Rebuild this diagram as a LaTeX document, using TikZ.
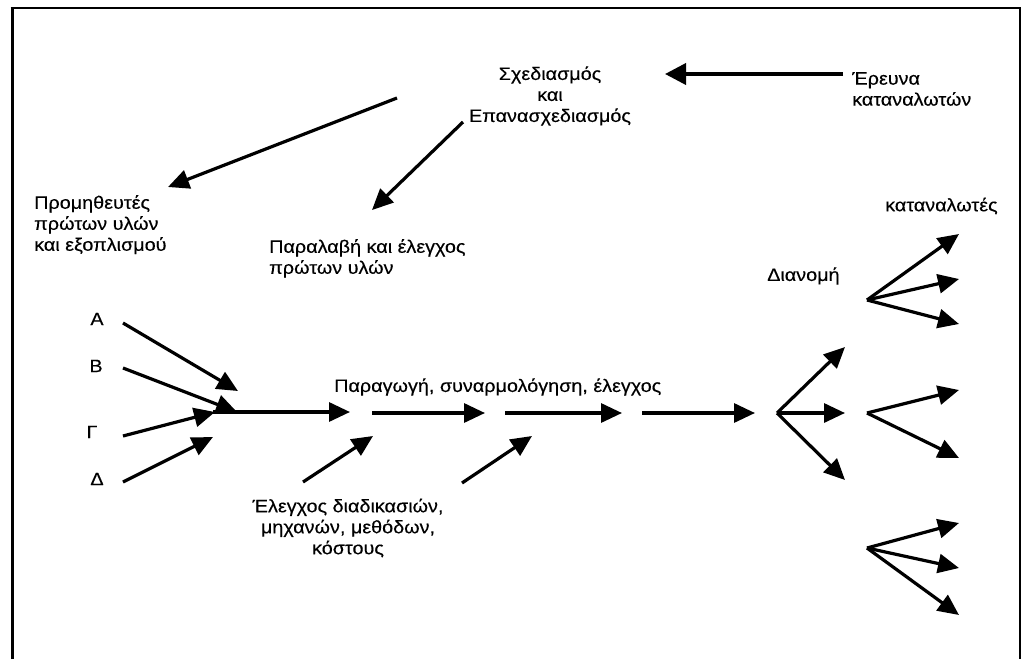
\documentclass[tikz,border=0pt]{standalone}
\usepackage{fontspec}
\setmainfont{Liberation Sans}[FakeStretch=1.1,FakeBold=0.3]
\usetikzlibrary{arrows.meta}
\begin{document}
\begin{tikzpicture}[x=1pt,y=-1pt,
  lbl/.style={inner sep=0pt,font=\fontsize{18}{21}\selectfont},
  flow/.style={line width=3.2pt,-{Triangle[length=21pt,width=19pt]}},
  thickflow/.style={line width=3.8pt,-{Triangle[length=21pt,width=21pt]}}]
\useasboundingbox (0,0) rectangle (1025,659);
% frame, open at the bottom
\draw[line width=3pt] (12,659) -- (12,8);
\draw[line width=2.4pt] (10.5,8) -- (1020,8);
\draw[line width=1.6pt] (1020,7) -- (1020,659);

% labels
\node[lbl,align=center] (design) at (550,96) {Σχεδιασμός\\και\\Επανασχεδιασμός};
\node[lbl,align=left,anchor=west] (research) at (852,89) {Έρευνα\\καταναλωτών};
\node[lbl,align=left,anchor=north west] (suppliers) at (34,195) {Προμηθευτές\\πρώτων υλών\\και εξοπλισμού};
\node[lbl,align=left,anchor=north west] (receipt) at (269,239) {Παραλαβή και έλεγχος\\πρώτων υλών};
\node[lbl] (sA) at (97,319) {Α};
\node[lbl] (sB) at (96,366) {Β};
\node[lbl] (sG) at (92,432) {Γ};
\node[lbl] (sD) at (97,479) {Δ};
\node[lbl,anchor=west] (production) at (334,387) {Παραγωγή, συναρμολόγηση, έλεγχος};
\node[lbl,align=center] (control) at (348,528) {Έλεγχος διαδικασιών,\\μηχανών, μεθόδων,\\κόστους};
\node[lbl,anchor=west] (distribution) at (767,276) {Διανομή};
\node[lbl,anchor=west] (consumers) at (885,206) {καταναλωτές};

% connector points
\coordinate (rS) at (843,74);   \coordinate (rE) at (665,74);
\coordinate (d1S) at (397,98);  \coordinate (d1E) at (168,187);
\coordinate (d2S) at (463,122); \coordinate (d2E) at (372,210);
\coordinate (aS) at (123,323);  \coordinate (aE) at (238,391);
\coordinate (bS) at (123,368);  \coordinate (bE) at (237,412);
\coordinate (gS) at (123,436);  \coordinate (gE) at (215,412);
\coordinate (dS) at (123,482);  \coordinate (dE) at (213,437);
\coordinate (m0) at (213,412);  \coordinate (m1) at (350,412);
\coordinate (m2) at (372,413);  \coordinate (m3) at (485,413);
\coordinate (m4) at (505,413);  \coordinate (m5) at (622,413);
\coordinate (m6) at (642,413);  \coordinate (m7) at (755,413);
\coordinate (c1S) at (303,482); \coordinate (c1E) at (373,436);
\coordinate (c2S) at (462,483); \coordinate (c2E) at (532,436);
\coordinate (fork) at (777,413);
\coordinate (f1) at (845,347); \coordinate (f2) at (845,413); \coordinate (f3) at (845,480);
\coordinate (gA) at (867,300);
\coordinate (gA1) at (959,234); \coordinate (gA2) at (959,279); \coordinate (gA3) at (959,324);
\coordinate (gB) at (867,413);
\coordinate (gB1) at (959,390); \coordinate (gB2) at (959,458);
\coordinate (gC) at (867,548);
\coordinate (gC1) at (959,523); \coordinate (gC2) at (959,568); \coordinate (gC3) at (959,615);

% connectors
\draw[thickflow] (rS) -- (rE);
\draw[flow] (d1S) -- (d1E);
\draw[flow] (d2S) -- (d2E);
\draw[flow] (aS) -- (aE);
\draw[flow] (bS) -- (bE);
\draw[flow] (gS) -- (gE);
\draw[flow] (dS) -- (dE);
\draw[flow] (m0) -- (m1);
\draw[flow] (m2) -- (m3);
\draw[flow] (m4) -- (m5);
\draw[flow] (m6) -- (m7);
\draw[flow] (c1S) -- (c1E);
\draw[flow] (c2S) -- (c2E);
\foreach \t in {f1,f2,f3} \draw[flow] (fork) -- (\t);
\foreach \t in {gA1,gA2,gA3} \draw[flow] (gA) -- (\t);
\foreach \t in {gB1,gB2} \draw[flow] (gB) -- (\t);
\foreach \t in {gC1,gC2,gC3} \draw[flow] (gC) -- (\t);
\end{tikzpicture}
\end{document}
